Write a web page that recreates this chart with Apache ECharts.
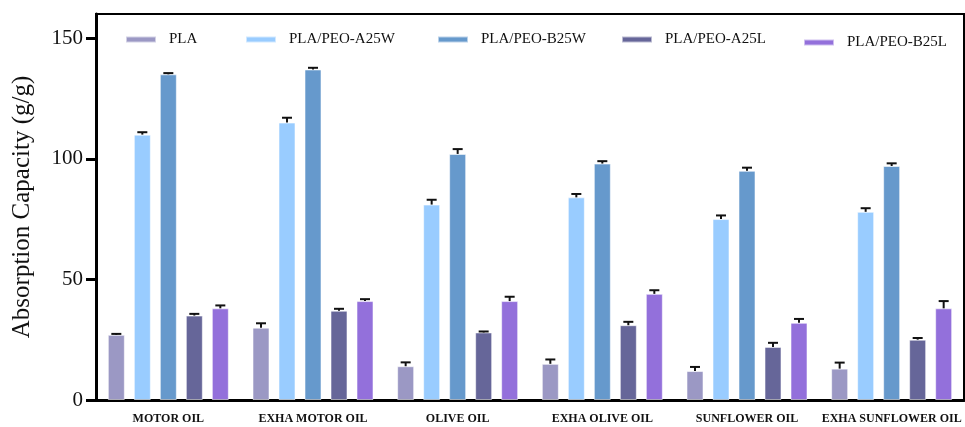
<!DOCTYPE html>
<html>
<head>
<meta charset="utf-8">
<script src="https://cdn.jsdelivr.net/npm/echarts@6/dist/echarts.min.js"></script>
<style>
  html, body { margin: 0; padding: 0; background: #fff; }
  #chart { width: 965px; height: 427px; }
</style>
</head>
<body>
<div id="chart"></div>
<script>
// Oil types tested
const categories = ['MOTOR OIL', 'EXHA MOTOR OIL', 'OLIVE OIL', 'EXHA OLIVE OIL', 'SUNFLOWER OIL', 'EXHA SUNFLOWER OIL'];

// Sample names
const seriesNames = ['PLA', 'PLA/PEO-A25W', 'PLA/PEO-B25W', 'PLA/PEO-A25L', 'PLA/PEO-B25L'];

// Mean absorption capacity (g/g) per sample, in category order
const plaMean   = [27, 30, 14, 15, 12, 13];
const a25wMean  = [110, 115, 81, 84, 75, 78];
const b25wMean  = [135, 137, 102, 98, 95, 97];
const a25lMean  = [35, 37, 28, 31, 22, 25];
const b25lMean  = [38, 41, 41, 44, 32, 38];

// Standard deviation (upper error bar)
const plaErr  = [0.4, 1.8, 1.6, 1.8, 1.7, 2.5];
const a25wErr = [1.0, 2.0, 2.0, 1.4, 1.5, 1.5];
const b25wErr = [0.5, 0.7, 2.0, 1.0, 1.3, 1.1];
const a25lErr = [0.7, 0.8, 0.4, 1.4, 1.7, 0.7];
const b25lErr = [1.2, 0.8, 1.8, 1.5, 1.6, 3.0];

// Y axis ticks
const yTicks = [0, 50, 100, 150];

const means = [plaMean, a25wMean, b25wMean, a25lMean, b25lMean];
const errs = [plaErr, a25wErr, b25wErr, a25lErr, b25lErr];
const colors = ['#9b98c4', '#99ccff', '#6699cc', '#666699', '#9370db'];

const BAR_W = 17;
const BAR_GAP = 9;
const SERIF = '"Liberation Serif", "DejaVu Serif", serif';

const chart = echarts.init(document.getElementById('chart'));

const barSeries = seriesNames.map((name, i) => ({
  name: name,
  type: 'bar',
  data: means[i],
  barWidth: BAR_W,
  barGap: (BAR_GAP / BAR_W * 100) + '%',
  itemStyle: { color: colors[i], borderColor: 'rgba(255,255,255,0.55)', borderWidth: 1 },
  z: 2
}));

// Upper error bars with caps, placed over each bar in the group
const errorSeries = seriesNames.map((name, i) => ({
  name: name + ' err',
  type: 'custom',
  data: categories.map((c, k) => [k, means[i][k], means[i][k] + errs[i][k]]),
  encode: { x: 0, y: [1, 2] },
  z: 5,
  silent: true,
  renderItem: function (params, api) {
    const k = api.value(0);
    const base = api.coord([k, api.value(1)]);
    const top = api.coord([k, api.value(2)]);
    const offset = (i - (seriesNames.length - 1) / 2) * (BAR_W + BAR_GAP);
    const x = base[0] + offset;
    const cap = 5;
    const style = { stroke: '#111', lineWidth: 2 };
    return {
      type: 'group',
      children: [
        { type: 'line', shape: { x1: x, y1: base[1], x2: x, y2: top[1] }, style: style },
        { type: 'line', shape: { x1: x - cap, y1: top[1], x2: x + cap, y2: top[1] }, style: style }
      ]
    };
  }
}));

// One legend block per sample so each can sit at its own spot
const legendLeft = [120, 240, 432, 616, 798];
const legendTop = [27, 27, 27, 27, 30];
const legends = seriesNames.map((name, i) => ({
  data: [name],
  left: legendLeft[i],
  top: legendTop[i],
  itemWidth: 30,
  itemHeight: 6,
  icon: 'rect',
  selectedMode: false,
  textStyle: { fontFamily: SERIF, fontSize: 15, color: '#111', padding: [0, 0, 0, 8] }
}));

chart.setOption({
  animation: false,
  backgroundColor: '#fff',
  legend: legends,
  grid: {
    left: 96, right: 1, top: 14, bottom: 27,
    containLabel: false, outerBoundsMode: 'none',
    show: true, borderColor: '#000', borderWidth: 2
  },
  xAxis: {
    type: 'category',
    data: categories,
    axisLine: { onZero: false, lineStyle: { color: '#000', width: 3 } },
    axisTick: { alignWithLabel: true, length: 8, lineStyle: { color: '#000', width: 3 } },
    axisLabel: {
      interval: 0,
      margin: 13,
      fontFamily: SERIF, fontWeight: 'bold', fontSize: 12, color: '#111'
    }
  },
  yAxis: {
    type: 'value',
    min: 0,
    max: 160,
    interval: 50,
    name: 'Absorption Capacity (g/g)',
    nameLocation: 'middle',
    nameGap: 61,
    nameTextStyle: { fontFamily: SERIF, fontSize: 25, color: '#111' },
    axisLine: { show: true, onZero: false, lineStyle: { color: '#000', width: 3 } },
    axisTick: { show: true, length: 10, customValues: yTicks, lineStyle: { color: '#000', width: 3 } },
    splitLine: { show: false },
    axisLabel: {
      margin: 13,
      customValues: yTicks,
      fontFamily: SERIF, fontSize: 21, color: '#111'
    }
  },
  series: barSeries.concat(errorSeries)
});
</script>
</body>
</html>
